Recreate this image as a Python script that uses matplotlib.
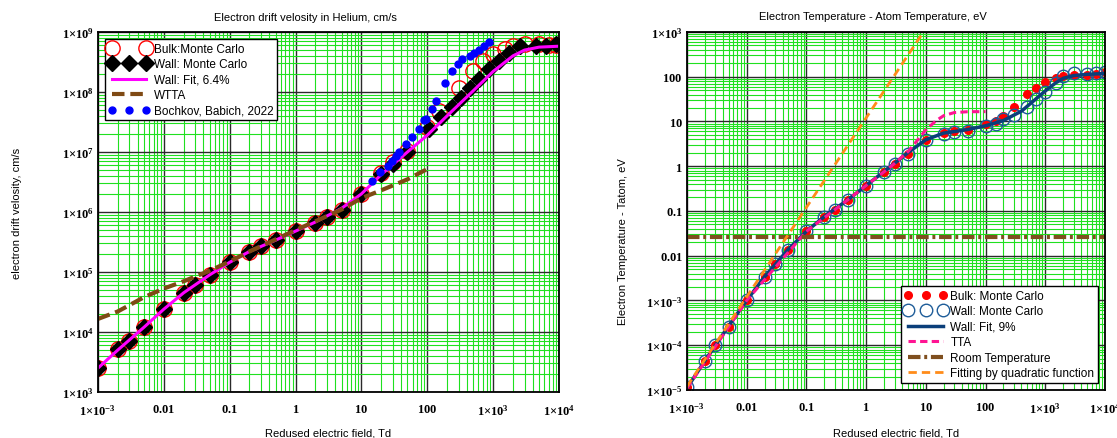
import matplotlib
matplotlib.use('Agg')
import matplotlib.pyplot as plt
from matplotlib.ticker import FixedLocator, FixedFormatter, LogLocator, NullFormatter
from matplotlib.legend_handler import HandlerLine2D

plt.rcParams['font.family'] = ['Liberation Sans', 'DejaVu Sans']
plt.rcParams['mathtext.fontset'] = 'custom'
plt.rcParams['mathtext.rm'] = 'Liberation Serif:bold'
plt.rcParams['mathtext.it'] = 'Liberation Serif:italic:bold'
plt.rcParams['mathtext.bf'] = 'Liberation Serif:bold'

# ---- drift velocity, cm/s ----
E_bulk = [1e-3, 2e-3, 3e-3, 5e-3, 0.01, 0.02, 0.03, 0.05, 0.1, 0.2, 0.3, 0.5,
          1, 2, 3, 5, 10, 20, 30, 50, 100, 150, 300, 500, 700,
          1000, 1500, 2000, 3000, 5000, 7000, 9000]
v_bulk = [2.5e3, 5.2e3, 7.2e3, 1.2e4, 2.4e4, 4.5e4, 6.0e4, 8.9e4, 1.45e5, 2.18e5, 2.75e5, 3.4e5,
          4.8e5, 6.6e5, 8.1e5, 1.09e6, 2.0e6, 4.5e6, 6.9e6, 1.05e7, 2.6e7, 4.8e7, 1.15e8, 2.2e8, 3.3e8,
          4.3e8, 5.3e8, 5.9e8, 6.3e8, 6.3e8, 6.1e8, 6.1e8]

E_wall = [1e-3, 2e-3, 3e-3, 5e-3, 0.01, 0.02, 0.03, 0.05, 0.1, 0.2, 0.3, 0.5,
          1, 2, 3, 5, 10, 20, 30, 50, 107, 160, 240, 320, 440,
          620, 880, 1230, 1750, 2600, 4500, 6300, 9000]
v_wall = [2.5e3, 5.2e3, 7.2e3, 1.2e4, 2.4e4, 4.5e4, 6.0e4, 8.9e4, 1.45e5, 2.18e5, 2.75e5, 3.4e5,
          4.8e5, 6.6e5, 8.1e5, 1.09e6, 2.0e6, 4.3e6, 6.4e6, 1.0e7, 2.4e7, 3.8e7, 5.6e7, 8.0e7, 1.15e8,
          1.65e8, 2.4e8, 3.3e8, 4.5e8, 5.9e8, 5.9e8, 5.8e8, 6.2e8]

E_vfit = [1e-3, 2e-3, 5e-3, 0.01, 0.02, 0.05, 0.1, 0.2, 0.5, 1, 2, 5, 10, 20, 50,
          100, 200, 500, 1000, 2000, 3000, 5000, 10000]
v_vfit = [2.5e3, 5.0e3, 1.2e4, 2.4e4, 4.5e4, 9.0e4, 1.45e5, 2.2e5, 3.4e5, 4.8e5, 6.8e5, 1.15e6,
          2.0e6, 4.2e6, 1.0e7, 1.9e7, 4.0e7, 1.05e8, 2.2e8, 4.0e8, 5.0e8, 5.6e8, 5.8e8]

E_wtta = [1e-3, 2e-3, 3e-3, 5e-3, 0.01, 0.02, 0.03, 0.05, 0.1, 0.2, 0.5, 1, 2, 5,
          10, 20, 50, 100]
v_wtta = [1.65e4, 2.2e4, 2.8e4, 3.8e4, 5.3e4, 7.0e4, 8.4e4, 1.05e5, 1.5e5, 2.2e5, 3.5e5, 5.0e5,
          7.0e5, 1.1e6, 1.7e6, 2.3e6, 3.5e6, 5.2e6]

E_bb = [14.5, 19.4, 25, 29, 33.5, 37.6, 47.5, 58, 74, 88, 96, 118, 138, 187,
        240, 290, 343, 440, 516, 615, 730, 870]
v_bb = [3.3e6, 4.7e6, 5.9e6, 7.2e6, 8.7e6, 1.0e7, 1.36e7, 1.76e7, 2.4e7, 3.4e7, 3.6e7, 5.2e7,
        7.2e7, 1.4e8, 2.2e8, 2.9e8, 3.5e8, 4.0e8, 4.5e8, 5.0e8, 5.9e8, 6.7e8]

# ---- electron temperature, eV ----
E_t = [1e-3, 2e-3, 3e-3, 5e-3, 0.01, 0.02, 0.03, 0.05, 0.1, 0.2, 0.3, 0.5,
       1, 2, 3, 5, 10, 20, 30, 50, 100, 150, 200, 300, 500, 700,
       1000, 1500, 2000, 3000, 5000, 7000, 10000]
T_bulk = [1.15e-5, 4.5e-5, 1.0e-4, 2.6e-4, 1.0e-3, 3.3e-3, 6.5e-3, 0.0136, 0.035, 0.073, 0.107, 0.18,
          0.37, 0.73, 1.12, 1.88, 3.8, 5.4, 6.0, 6.4, 9.0, 10.4, 13.3, 21, 41, 57,
          78, 95, 105, 107, 112, 117, 126]
T_wall = [1.15e-5, 4.5e-5, 1.0e-4, 2.6e-4, 1.0e-3, 3.3e-3, 6.5e-3, 0.0136, 0.035, 0.073, 0.107, 0.18,
          0.37, 0.73, 1.12, 1.88, 3.9, 5.2, 5.7, 6.2, 8.0, 8.8, 11.4, 14, 20.7, 31.6,
          45, 72, 105, 120, 118, 121, 128]

E_tfit = [1e-3, 2e-3, 5e-3, 0.01, 0.02, 0.05, 0.1, 0.2, 0.5, 1, 2, 5, 10, 20, 50,
          100, 200, 400, 700, 1000, 1500, 2000, 3000, 5000, 10000]
T_tfit = [1.1e-5, 4.5e-5, 2.7e-4, 1.0e-3, 3.4e-3, 0.014, 0.035, 0.075, 0.18, 0.37, 0.76, 2.0,
          3.9, 5.5, 6.6, 8.0, 10.5, 17, 32, 48, 73, 92, 106, 113, 118]

E_tta = [1e-3, 0.01, 0.1, 0.5, 1, 2, 3, 5, 7, 10, 15, 20, 30, 50, 100]
T_tta = [1.1e-5, 1.0e-3, 0.035, 0.18, 0.37, 0.75, 1.15, 2.1, 3.6, 6.5, 10.5, 13.5, 15.8, 16.5, 16.6]

E_room = [1e-3, 1e4]
T_room = [0.0258, 0.0258]

E_quad = [1e-3, 0.01, 0.1, 1, 10]
T_quad = [1.2e-5, 1.2e-3, 0.12, 12, 1200]

# tick labels
x_ticks = [1e-3, 1e-2, 0.1, 1, 10, 100, 1e3, 1e4]
x_labels = [r'$1{\times}10^{-3}$', r'$0.01$', r'$0.1$', r'$1$', r'$10$', r'$100$',
            r'$1{\times}10^{3}$', r'$1{\times}10^{4}$']
v_ticks = [1e3, 1e4, 1e5, 1e6, 1e7, 1e8, 1e9]
v_labels = [r'$1{\times}10^{3}$', r'$1{\times}10^{4}$', r'$1{\times}10^{5}$', r'$1{\times}10^{6}$',
            r'$1{\times}10^{7}$', r'$1{\times}10^{8}$', r'$1{\times}10^{9}$']
T_ticks = [1e-5, 1e-4, 1e-3, 1e-2, 0.1, 1, 10, 100, 1e3]
T_labels = [r'$1{\times}10^{-5}$', r'$1{\times}10^{-4}$', r'$1{\times}10^{-3}$', r'$0.01$', r'$0.1$',
            r'$1$', r'$10$', r'$100$', r'$1{\times}10^{3}$']


def setup_axes(ax, yticks, ylabels, ylim):
    ax.set_xscale('log')
    ax.set_yscale('log')
    ax.set_xlim(1e-3, 1e4)
    ax.set_ylim(*ylim)
    ax.xaxis.set_major_locator(FixedLocator(x_ticks))
    ax.xaxis.set_major_formatter(FixedFormatter(x_labels))
    ax.yaxis.set_major_locator(FixedLocator(yticks))
    ax.yaxis.set_major_formatter(FixedFormatter(ylabels))
    for axis in (ax.xaxis, ax.yaxis):
        axis.set_minor_locator(LogLocator(base=10, subs=range(2, 10), numticks=30))
        axis.set_minor_formatter(NullFormatter())
    ax.tick_params(which='both', length=0, labelsize=9)
    ax.tick_params(axis='x', pad=8)
    ax.tick_params(axis='y', pad=3)
    ax.grid(which='minor', color='#1fe01f', lw=0.8)
    ax.grid(which='major', color='#2a2a2a', lw=1.0)
    ax.set_axisbelow(True)
    for sp in ax.spines.values():
        sp.set_linewidth(1.3)
        sp.set_color('black')


legend_style = dict(fontsize=8.5, numpoints=3, handlelength=3.5, borderaxespad=0.6,
                    labelspacing=0.3, borderpad=0.3, handletextpad=0.35, fancybox=False,
                    edgecolor='black', framealpha=1)

fig = plt.figure(figsize=(11.17, 4.39), dpi=100)
ax1 = fig.add_axes([0.0877, 0.1048, 0.4127, 0.820])
ax2 = fig.add_axes([0.615, 0.1094, 0.3742, 0.8155])

# left: drift velocity
setup_axes(ax1, v_ticks, v_labels, (1e3, 1e9))
bulk_line, = ax1.plot(E_bulk, v_bulk, 'o', ms=11, mfc='none', mec='red', mew=1.0,
                      label='Bulk:Monte Carlo')
ax1.plot(E_wall, v_wall, 'D', ms=8, color='black', label='Wall: Monte Carlo')
ax1.plot(E_vfit, v_vfit, '-', color='#ff00ff', lw=2.2, label='Wall: Fit, 6.4%')
ax1.plot(E_wtta, v_wtta, color='#7f4a14', lw=3, dashes=(3, 1.4), label='WTTA')
ax1.plot(E_bb, v_bb, 'o', ms=5, color='#0000ff', label='Bochkov, Babich, 2022')
ax1.set_title('Electron drift velosity in Helium, cm/s', fontsize=8, x=0.451, pad=9)
ax1.set_xlabel('Redused electric field, Td', fontsize=8)
ax1.xaxis.set_label_coords(0.5, -0.1)
ax1.set_ylabel('electron drift velosity, cm/s', fontsize=8)
ax1.yaxis.set_label_coords(-0.165, 0.5)
leg1 = ax1.legend(loc='upper left', handler_map={bulk_line: HandlerLine2D(numpoints=2)},
                  **legend_style)
leg1.get_frame().set_linewidth(1.0)

# right: electron temperature
setup_axes(ax2, T_ticks, T_labels, (1e-5, 1e3))
ax2.plot(E_t, T_bulk, 'o', ms=5.5, color='red', label='Bulk: Monte Carlo')
ax2.plot(E_t, T_wall, 'o', ms=9, mfc='none', mec='#1f5d99', mew=1.0, label='Wall: Monte Carlo')
ax2.plot(E_tfit, T_tfit, '-', color='#0b3f7a', lw=2.5, label='Wall: Fit, 9%')
ax2.plot(E_tta, T_tta, color='#ff1493', lw=2.2, dashes=(2.4, 1.4), label='TTA')
ax2.plot(E_room, T_room, color='#7f4f1f', lw=3, dashes=(3, 0.9, 0.7, 0.9), label='Room Temperature')
ax2.plot(E_quad, T_quad, color='#ff8c1a', lw=2.0, dashes=(3, 1.8), label='Fitting by quadratic function')
ax2.set_title('Electron Temperature - Atom Temperature, eV', fontsize=8, x=0.445, pad=9)
ax2.set_xlabel('Redused electric field, Td', fontsize=8)
ax2.xaxis.set_label_coords(0.5, -0.104)
ax2.set_ylabel('Electron Temperature - Tatom, eV', fontsize=8)
ax2.yaxis.set_label_coords(-0.141, 0.416)
leg2 = ax2.legend(loc='lower right', **legend_style)
leg2.get_frame().set_linewidth(1.0)

fig.savefig('out.png', dpi=100)
